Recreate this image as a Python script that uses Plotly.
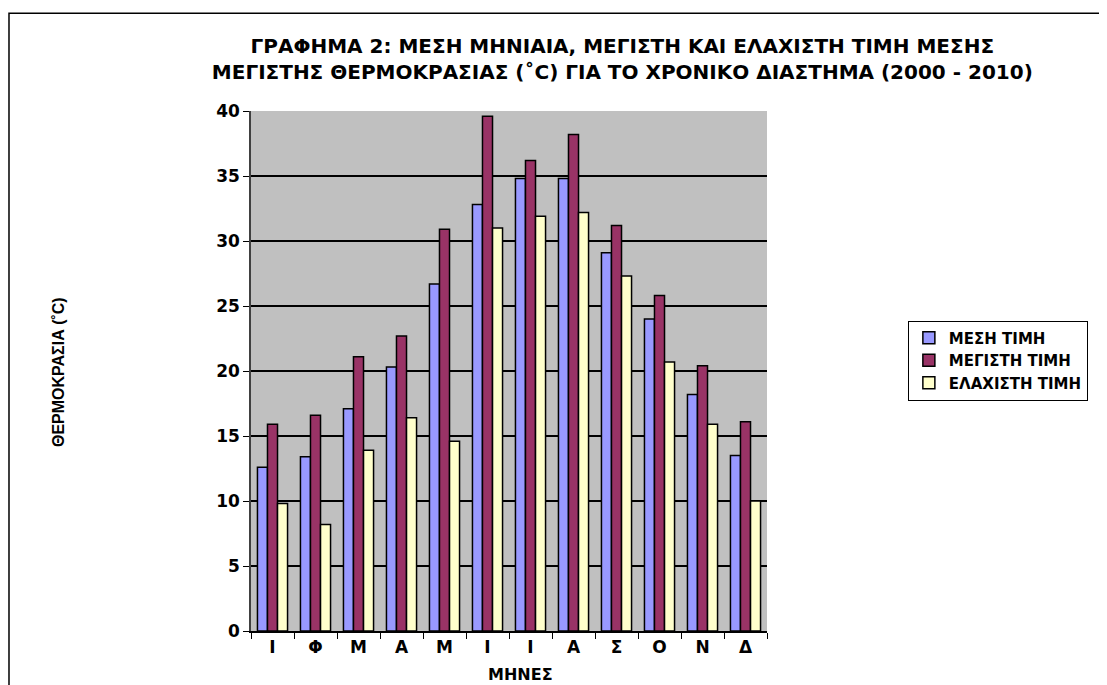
import plotly.graph_objects as go

months = ["Ιανουάριος", "Φεβρουάριος", "Μάρτιος", "Απρίλιος", "Μάιος", "Ιούνιος",
          "Ιούλιος", "Αύγουστος", "Σεπτέμβριος", "Οκτώβριος", "Νοέμβριος", "Δεκέμβριος"]
month_labels = ["Ι", "Φ", "Μ", "Α", "Μ", "Ι", "Ι", "Α", "Σ", "Ο", "Ν", "Δ"]

mean_vals = [12.6, 13.4, 17.1, 20.3, 26.7, 32.8, 34.8, 34.8, 29.1, 24.0, 18.2, 13.5]
max_vals = [15.9, 16.6, 21.1, 22.7, 30.9, 39.6, 36.2, 38.2, 31.2, 25.8, 20.4, 16.1]
min_vals = [9.8, 8.2, 13.9, 16.4, 14.6, 31.0, 31.9, 32.2, 27.3, 20.7, 15.9, 10.0]

y_ticks = [0, 5, 10, 15, 20, 25, 30, 35, 40]

series_names = ["ΜΕΣΗ ΤΙΜΗ", "ΜΕΓΙΣΤΗ ΤΙΜΗ", "ΕΛΑΧΙΣΤΗ ΤΙΜΗ"]
colors = ["#9999FF", "#993366", "#FFFFCC"]

FONT = "Liberation Sans, Arial, sans-serif"
WIDE = "DejaVu Sans, Liberation Sans, sans-serif"

fig = go.Figure()
for name, vals, col in zip(series_names, [mean_vals, max_vals, min_vals], colors):
    fig.add_trace(go.Bar(
        x=months, y=vals, name="<b>" + name + "</b>",
        marker=dict(color=col, line=dict(color="black", width=1.5)),
    ))

fig.update_layout(
    width=1099, height=677,
    margin=dict(l=243, r=340, t=103, b=54),
    paper_bgcolor="white",
    plot_bgcolor="#C0C0C0",
    barmode="group",
    bargap=0.3,
    bargroupgap=0,
    font=dict(family=FONT, color="black"),
    title=dict(
        text="<b>ΓΡΑΦΗΜΑ 2: ΜΕΣΗ ΜΗΝΙΑΙΑ, ΜΕΓΙΣΤΗ ΚΑΙ ΕΛΑΧΙΣΤΗ ΤΙΜΗ ΜΕΣΗΣ<br>"
             "ΜΕΓΙΣΤΗΣ ΘΕΡΜΟΚΡΑΣΙΑΣ (˚C) ΓΙΑ ΤΟ ΧΡΟΝΙΚΟ ΔΙΑΣΤΗΜΑ (2000 - 2010)</b>",
        x=0.559, xanchor="center", y=0.933, yanchor="middle",
        font=dict(size=20, family=WIDE, color="black"),
    ),
    legend=dict(
        x=1.273, xanchor="left", y=0.597, yanchor="top",
        bgcolor="white", bordercolor="black", borderwidth=1,
        font=dict(size=15, family=WIDE, color="black"),
        tracegroupgap=0, itemwidth=30,
    ),
    showlegend=True,
)

fig.update_yaxes(
    range=[0, 40],
    tickmode="array", tickvals=y_ticks, ticktext=["<b>%d</b>" % v for v in y_ticks],
    showgrid=True, gridcolor="black", gridwidth=1.5,
    showline=True, linecolor="#404040", linewidth=1.5,
    ticks="outside", ticklen=6, tickcolor="black",
    tickfont=dict(size=17, family=WIDE, color="black"),
    zeroline=False,
)
fig.update_xaxes(
    tickmode="array", tickvals=months, ticktext=["<b>" + t + "</b>" for t in month_labels],
    tickson="boundaries",
    showline=True, linecolor="black", linewidth=2,
    ticks="outside", ticklen=6, tickcolor="black",
    tickfont=dict(size=17, family=WIDE, color="black"),
    showgrid=False,
)

fig.add_annotation(
    text="<b>ΘΕΡΜΟΚΡΑΣΙΑ (˚C)</b>", xref="paper", yref="paper",
    x=-0.374, y=0.498, xanchor="center", yanchor="middle",
    textangle=-90, showarrow=False,
    font=dict(size=16, family=FONT, color="black"),
)
fig.add_annotation(
    text="<b>ΜΗΝΕΣ</b>", xref="paper", yref="paper",
    x=0.523, y=-0.084, xanchor="center", yanchor="middle", showarrow=False,
    font=dict(size=16, family=WIDE, color="black"),
)
fig.add_shape(
    type="rect", xref="paper", yref="paper",
    x0=-0.469, x1=2.5, y0=-0.5, y1=1.188,
    line=dict(color="black", width=1.5), fillcolor="rgba(0,0,0,0)",
    layer="below",
)

fig.write_html("out.html")
